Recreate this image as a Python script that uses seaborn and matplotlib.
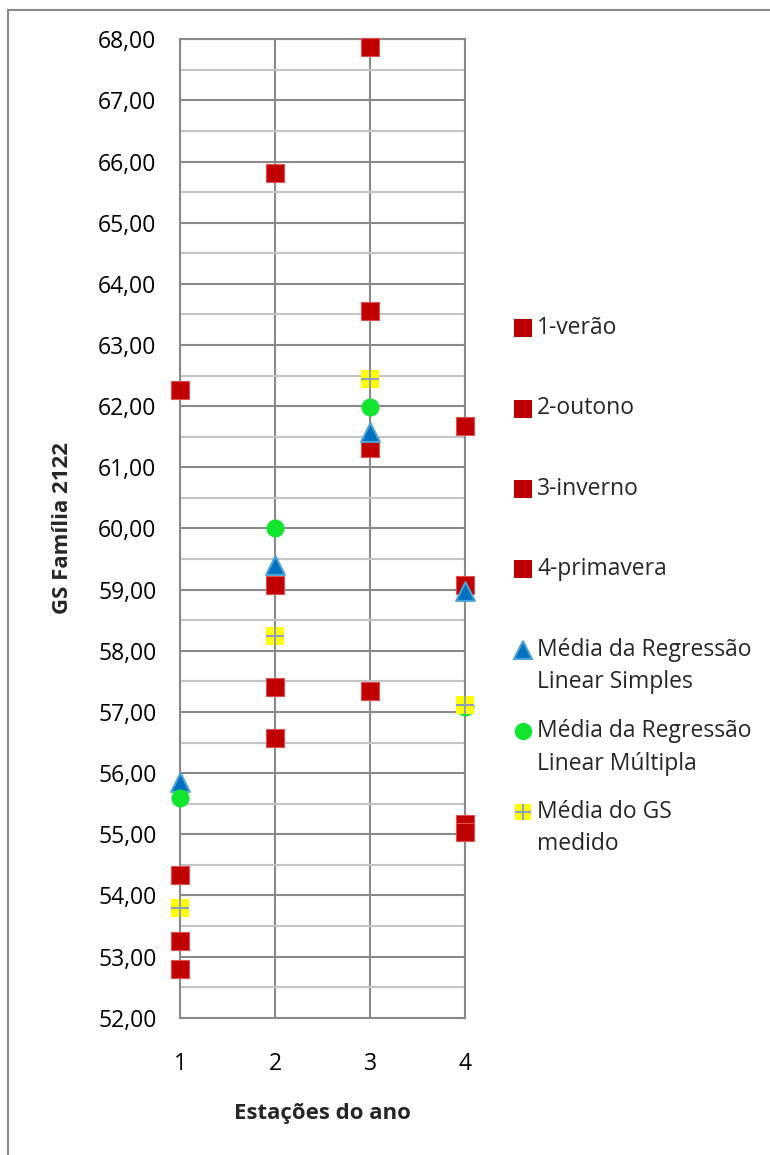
import matplotlib
matplotlib.use("Agg")
import matplotlib.pyplot as plt
from matplotlib.lines import Line2D
from matplotlib.patches import Rectangle
from matplotlib.ticker import FuncFormatter, MultipleLocator
import seaborn as sns
import pandas as pd

# ---- data ----
seasons = [1, 2, 3, 4]
season_labels = ["1-verão", "2-outono", "3-inverno", "4-primavera"]
verao = [62.26, 54.33, 53.25, 52.80]
outono = [65.81, 59.07, 57.40, 56.58]
inverno = [67.88, 63.56, 61.31, 57.35]
primavera = [61.67, 59.07, 55.16, 55.04]
reg_simples = [55.86, 59.41, 61.58, 58.97]
reg_multipla = [55.59, 60.01, 61.99, 57.08]
gs_medido = [53.79, 58.24, 62.44, 57.11]
label_simples = "Média da Regressão\nLinear Simples"
label_multipla = "Média da Regressão\nLinear Múltipla"
label_gs = "Média do GS\nmedido"
xlabel = "Estações do ano"
ylabel = "GS Família 2122"

sns.set_theme(style="white")
FONT = ["Open Sans", "DejaVu Sans"]
plt.rcParams["font.family"] = FONT

W, H = 770, 1155
fig = plt.figure(figsize=(W / 100, H / 100), dpi=100)
ax = fig.add_axes([180 / W, 1 - 1017.7 / H, (465.3 - 180) / W, (1017.7 - 39.3) / H])

RED = "#c00000"
RED_EDGE = "#e05050"
BLUE = "#0070c0"
BLUE_EDGE = "#4ba3d6"
GREEN = "#12e52e"
YELLOW = "#ffff00"
PLUS = "#8f9fb8"
GRID_MAJ = "#8a8a8a"
GRID_MIN = "#c4c4c4"

ms_sq = 13 ** 2

# red season series
season_vals = [verao, outono, inverno, primavera]
for s, lab, vals in zip(seasons, season_labels, season_vals):
    df = pd.DataFrame({"x": [s] * len(vals), "y": vals})
    sns.scatterplot(data=df, x="x", y="y", ax=ax, marker="s", s=ms_sq,
                    color=RED, edgecolor=RED_EDGE, linewidth=0.8,
                    clip_on=False, zorder=5, legend=False)

df_s = pd.DataFrame({"x": seasons, "y": reg_simples})
sns.scatterplot(data=df_s, x="x", y="y", ax=ax, marker="^", s=13.5 ** 2,
                color=BLUE, edgecolor=BLUE_EDGE, linewidth=1.5,
                clip_on=False, zorder=6, legend=False)
df_m = pd.DataFrame({"x": seasons, "y": reg_multipla})
sns.scatterplot(data=df_m, x="x", y="y", ax=ax, marker="o", s=13 ** 2,
                color=GREEN, edgecolor=GREEN, linewidth=0,
                clip_on=False, zorder=7, legend=False)
df_g = pd.DataFrame({"x": seasons, "y": gs_medido})
sns.scatterplot(data=df_g, x="x", y="y", ax=ax, marker="s", s=12.5 ** 2,
                color=YELLOW, edgecolor=YELLOW, linewidth=0,
                clip_on=False, zorder=8, legend=False)
sns.scatterplot(data=df_g, x="x", y="y", ax=ax, marker="+", s=12.5 ** 2,
                color=PLUS, linewidth=1.5,
                clip_on=False, zorder=9, legend=False)

# axes styling
ax.set_xlim(1, 4)
ax.set_ylim(52, 68)
ax.xaxis.set_major_locator(MultipleLocator(1))
ax.yaxis.set_major_locator(MultipleLocator(1))
ax.yaxis.set_minor_locator(MultipleLocator(0.5))
ax.yaxis.set_major_formatter(FuncFormatter(lambda v, p: f"{v:.2f}".replace(".", ",")))
ax.xaxis.set_major_formatter(FuncFormatter(lambda v, p: f"{int(round(v))}"))
ax.grid(True, which="major", axis="both", color=GRID_MAJ, linewidth=1.5, zorder=0)
ax.grid(True, which="minor", axis="y", color=GRID_MIN, linewidth=1.5, zorder=0)
ax.set_axisbelow(True)
for sp in ax.spines.values():
    sp.set_visible(True)
    sp.set_color(GRID_MAJ)
    sp.set_linewidth(1.5)
ax.tick_params(axis="both", which="major", direction="out", length=6, width=1.2,
               color=GRID_MAJ, labelsize=16.5, labelcolor="black")
ax.tick_params(axis="y", which="major", pad=11)
ax.tick_params(axis="x", which="major", pad=19)
ax.tick_params(which="minor", length=0)
ax.set_xlabel("")
ax.set_ylabel("")

fig.text(322.6 / W, 1 - 1113 / H, xlabel, ha="center", va="center",
         fontsize=16, fontweight="bold", family=FONT)
fig.text(62 / W, 1 - 528.5 / H, ylabel, ha="center", va="center", rotation=90,
         fontsize=16, fontweight="bold", family=FONT)

# outer chart frame (left and top edges visible)
fig.add_artist(Rectangle((8 / W, -0.1), 2, 1 - 10 / H + 0.1, transform=fig.transFigure,
                         fill=False, edgecolor=GRID_MAJ, linewidth=1.5))

# legend (Excel-style: marker aligned with first text line)
def fpt(px, py):
    return px / W, 1 - py / H

mx = 522.5
tx = 537
entries = [
    (328, dict(marker="s", ms=12.5, mfc=RED, mec=RED, mew=0), season_labels[0]),
    (408.5, dict(marker="s", ms=12.5, mfc=RED, mec=RED, mew=0), season_labels[1]),
    (489, dict(marker="s", ms=12.5, mfc=RED, mec=RED, mew=0), season_labels[2]),
    (569.5, dict(marker="s", ms=12.5, mfc=RED, mec=RED, mew=0), season_labels[3]),
    (650, dict(marker="^", ms=13, mfc=BLUE, mec=BLUE_EDGE, mew=1.5), label_simples),
    (731, dict(marker="o", ms=12.5, mfc=GREEN, mec=GREEN, mew=0), label_multipla),
    (812, dict(marker="s", ms=12, mfc=YELLOW, mec=YELLOW, mew=0), label_gs),
]
for py, style, lab in entries:
    x0, y0 = fpt(mx, py)
    fig.add_artist(Line2D([x0], [y0], linestyle="none", transform=fig.transFigure, **style))
    if lab == label_gs:
        fig.add_artist(Line2D([x0], [y0], linestyle="none", marker="+", ms=12, mec=PLUS,
                              mew=1.5, transform=fig.transFigure))
    lines = lab.split("\n")
    for i, ln in enumerate(lines):
        xx, yy = fpt(tx, py + i * 32.5)
        fig.text(xx, yy, ln, ha="left", va="center", fontsize=16.5, family=FONT)

fig.savefig("out.png", dpi=100)
